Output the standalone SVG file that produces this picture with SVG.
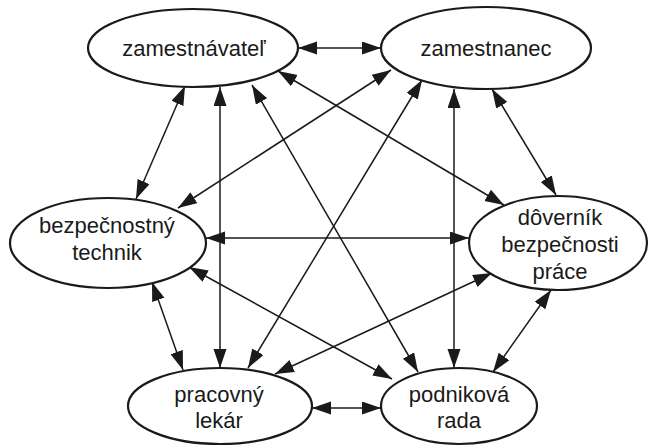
<svg xmlns="http://www.w3.org/2000/svg" width="649" height="447" viewBox="0 0 649 447">
<style>
.n ellipse{fill:#fff;stroke:#1a1a1a;stroke-width:2.2}
.n text{font-family:"Liberation Sans",Arial,sans-serif;font-size:22px;fill:#1a1a1a;text-anchor:middle}
.e line{stroke:#1a1a1a;stroke-width:1.5;marker-start:url(#ah);marker-end:url(#ah)}
</style>
<defs>
<marker id="ah" markerUnits="userSpaceOnUse" markerWidth="20" markerHeight="14" refX="19" refY="6.5" orient="auto-start-reverse" viewBox="0 0 20 14">
<path d="M0,0 L19,6.5 L0,13 z" fill="#1a1a1a"/>
</marker>
</defs>
<rect width="649" height="447" fill="#fff"/>
<g class="e" id="connectors">
<line x1="298" y1="48" x2="381" y2="48"/>
<line x1="185" y1="86" x2="136" y2="199"/>
<line x1="220" y1="87" x2="220" y2="368"/>
<line x1="252" y1="85" x2="418" y2="372"/>
<line x1="278" y1="71" x2="504" y2="205"/>
<line x1="391" y1="70" x2="178" y2="208"/>
<line x1="422" y1="80" x2="248" y2="368"/>
<line x1="454" y1="89" x2="454" y2="368"/>
<line x1="492" y1="89" x2="556" y2="195"/>
<line x1="206" y1="238" x2="469" y2="238"/>
<line x1="152" y1="282" x2="183" y2="370"/>
<line x1="189" y1="267" x2="392" y2="379"/>
<line x1="492" y1="273" x2="275" y2="374"/>
<line x1="551" y1="290" x2="493" y2="372"/>
<line x1="312" y1="408" x2="381" y2="408"/>
</g>
<g class="n" id="zamestnavatel">
<ellipse cx="193" cy="48" rx="105" ry="39"/>
<text x="194" y="56">zamestnávateľ</text>
</g>
<g class="n" id="zamestnanec">
<ellipse cx="486" cy="48" rx="105" ry="41"/>
<text x="486" y="56">zamestnanec</text>
</g>
<g class="n" id="bezpecnostny-technik">
<ellipse cx="108" cy="243" rx="98" ry="45"/>
<text x="107" y="233">bezpečnostný</text>
<text x="107" y="260">technik</text>
</g>
<g class="n" id="povernik">
<ellipse cx="558" cy="243" rx="89" ry="47"/>
<text x="560" y="225">dôverník</text>
<text x="560" y="252">bezpečnosti</text>
<text x="560" y="279">práce</text>
</g>
<g class="n" id="pracovny-lekar">
<ellipse cx="220" cy="406" rx="92" ry="38"/>
<text x="219" y="402">pracovný</text>
<text x="219" y="428">lekár</text>
</g>
<g class="n" id="podnikova-rada">
<ellipse cx="459" cy="406" rx="78" ry="38"/>
<text x="459" y="402">podniková</text>
<text x="459" y="428">rada</text>
</g>
</svg>
